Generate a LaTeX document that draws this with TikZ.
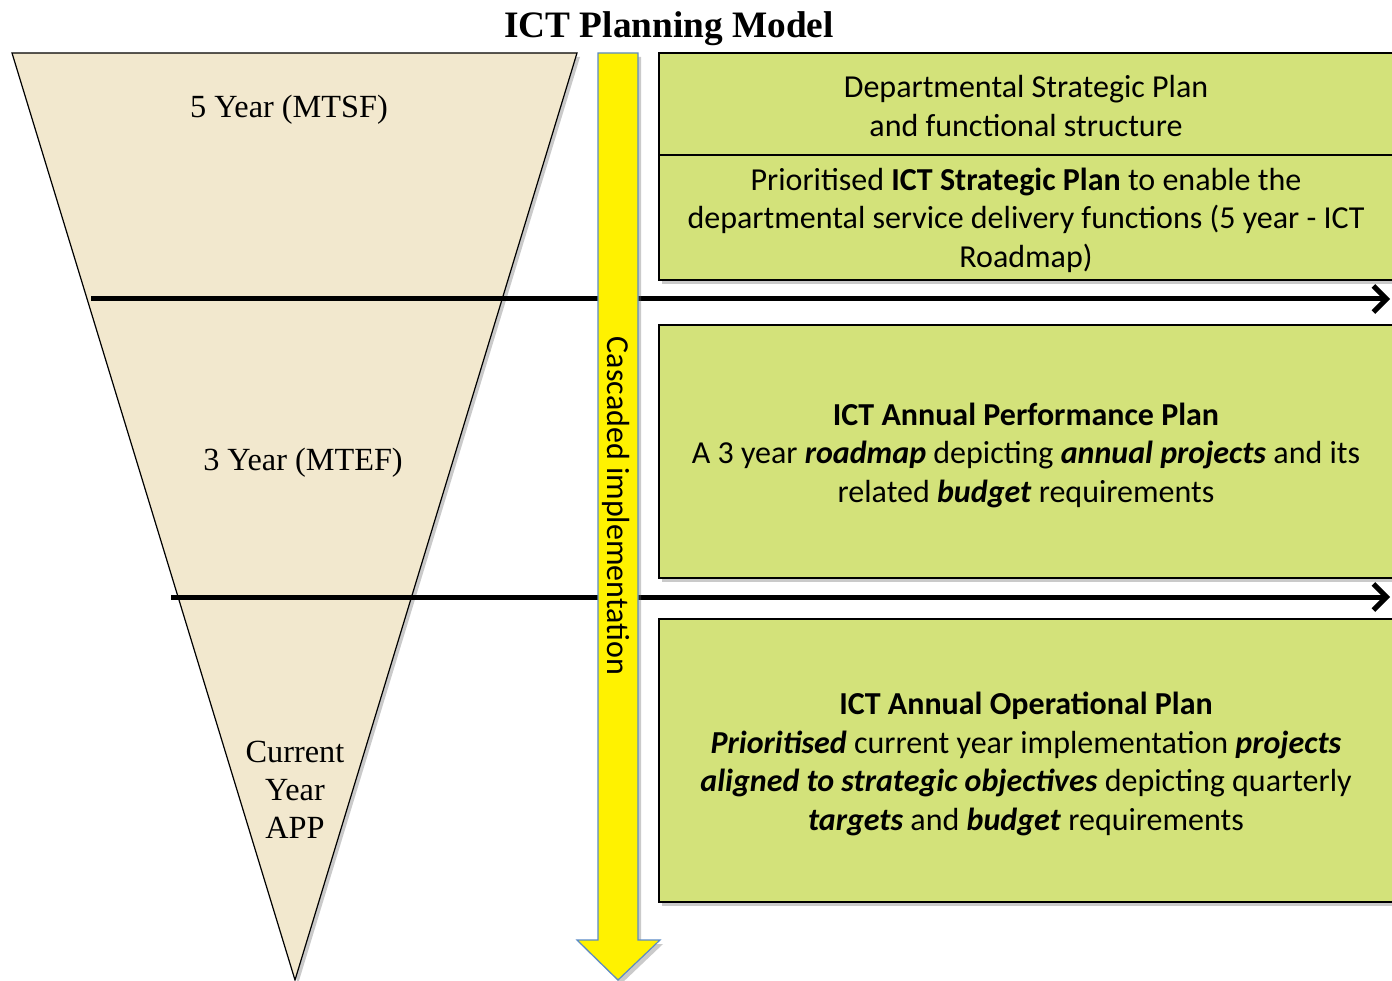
\documentclass[tikz,border=0pt]{standalone}
\usepackage{fontspec}
\setmainfont{Liberation Serif}
\newfontfamily\calib{Carlito}
\usetikzlibrary{arrows.meta,shadows}
\definecolor{sand}{HTML}{F2E8CE}
\definecolor{lime}{HTML}{D3E27A}
\definecolor{arrowblue}{HTML}{5B8BC6}
\tikzset{
  shade3/.style={drop shadow={shadow xshift=3pt,shadow yshift=-4pt,opacity=0.35,fill=black!60}},
  greenbox/.style={draw=black,line width=1.2pt,fill=lime,shade3},
  boxtext/.style={font=\calib\fontsize{32}{38.5}\selectfont,align=center,text=black},
  trilabel/.style={font=\fontsize{32.3}{38}\selectfont,align=center},
  bigarrow/.style={line width=5pt,-{Straight Barb[length=13pt,width=26pt,line width=5pt]}},
}
\begin{document}
\begin{tikzpicture}[x=1pt,y=-1pt]
\useasboundingbox (0,0) rectangle (1392,981);
% title
\node[font=\bfseries\fontsize{37.3}{42}\selectfont] (title) at (669,29) {ICT Planning Model};
% triangle
\draw[fill=sand,line width=1.2pt,shade3] (12,53) -- (577,53) -- (295,980) -- cycle;
\node[trilabel] (t5) at (289,110) {5 Year (MTSF)};
\node[trilabel] (t3) at (303,463) {3 Year (MTEF)};
\node[trilabel] (tc) at (295,790) {Current\\Year\\APP};
% green boxes
\draw[greenbox] (659,53) rectangle (1410,280);
\draw[line width=1.2pt] (659,155) -- (1410,155);
\draw[greenbox] (659,325) rectangle (1410,578);
\draw[greenbox] (659,619) rectangle (1410,902);
\node[boxtext] (b1a) at (1026,106) {Departmental Strategic Plan\\and functional structure};
\node[boxtext] (b1b) at (1026,220) {Prioritised \textbf{ICT Strategic Plan} to enable the\\departmental service delivery functions (5 year - ICT\\Roadmap)};
\node[boxtext] (b2) at (1026,455) {\textbf{ICT Annual Performance Plan}\\A 3 year \textbf{\textit{roadmap}} depicting \textbf{\textit{annual projects}} and its\\related \textbf{\textit{budget}} requirements};
\node[boxtext] (b3) at (1026,764) {\textbf{ICT Annual Operational Plan}\\\textbf{\textit{Prioritised}} current year implementation \textbf{\textit{projects}}\\\textbf{\textit{aligned to strategic objectives}} depicting quarterly\\\textbf{\textit{targets}} and \textbf{\textit{budget}} requirements};
% horizontal arrows
\coordinate (a1s) at (91,299);
\coordinate (a1e) at (1390,299);
\coordinate (a2s) at (171,597);
\coordinate (a2e) at (1390,597);
\draw[bigarrow] (a1s) -- (a1e);
\draw[bigarrow] (a2s) -- (a2e);
% cascaded arrow
\draw[fill=yellow,draw=arrowblue,line width=1.2pt,shade3]
  (598,53) -- (638,53) -- (638,940) -- (660,940) -- (618,980) -- (577,940) -- (598,940) -- cycle;
\node[font=\calib\fontsize{32}{36}\selectfont,rotate=-90] (casc) at (616,506) {Cascaded implementation};
\end{tikzpicture}
\end{document}
